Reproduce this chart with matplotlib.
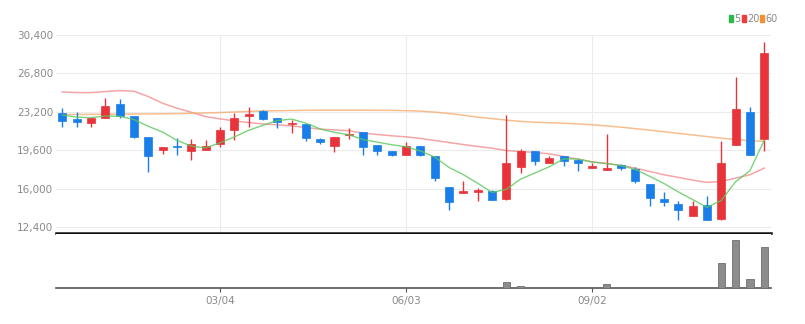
import matplotlib
matplotlib.use("Agg")
import matplotlib.pyplot as plt
import numpy as np
import pandas as pd

# ---- data (weekly candles) ----
dates = pd.date_range("2023-12-18", periods=50, freq="W-MON")
opens = [23130, 22507, 22132, 22600, 23910, 22787, 20853, 19574, 20010, 19542,
         19574, 20166, 21508, 22850, 23287, 22662, 22070, 22038, 20666, 19948,
         21010, 21352, 20042, 19542, 19137, 20010, 19043, 16135, 15580, 15642,
         15767, 15050, 18014, 19542, 18446, 19012, 18670, 17920, 17701, 18170,
         17858, 16454, 15050, 14582, 13396, 14426, 13146, 20042, 23224, 20666]
highs = [23536, 23224, 22694, 24534, 24410, 22787, 20853, 19917, 20790, 20634,
         20572, 21789, 23100, 23692, 23400, 22662, 22444, 22038, 20790, 20884,
         21664, 21352, 20042, 19542, 20322, 20010, 19043, 16135, 16672, 16048,
         15830, 22912, 19698, 19542, 19074, 19074, 18762, 18384, 21134, 18290,
         17982, 16454, 15680, 14800, 14862, 15330, 20416, 26500, 23630, 29776]
lows = [21758, 21820, 21758, 22600, 22662, 20790, 17514, 19230, 19137, 18700,
        19574, 19917, 20603, 21820, 22400, 21727, 21196, 20416, 20198, 19386,
        20634, 19106, 19106, 19012, 19137, 19074, 16672, 13958, 15580, 14800,
        14894, 14956, 17452, 18170, 18384, 18076, 17608, 17920, 17701, 17701,
        16510, 14332, 14332, 13084, 13396, 13084, 13022, 20042, 19106, 19480]
closes = [22382, 22257, 22600, 23786, 22850, 20884, 19074, 19917, 19886, 20166,
          20010, 21477, 22631, 23037, 22507, 22226, 22194, 20728, 20322, 20884,
          21134, 19886, 19542, 19106, 19948, 19168, 16984, 14700, 15736, 15892,
          14894, 18446, 19542, 18544, 18856, 18544, 18384, 18076, 17888, 17920,
          16758, 15112, 14706, 13958, 14332, 13084, 18384, 23474, 19106, 28684]
volumes = [14, 12, 13, 12, 14, 12, 13, 12, 13, 10,
           11, 12, 13, 12, 13, 12, 13, 9, 10, 9,
           10, 8, 7, 8, 9, 8, 7, 8, 7, 8,
           9, 60, 22, 10, 8, 8, 9, 10, 44, 10,
           7, 8, 9, 8, 9, 9, 250, 480, 94, 412]
ma5 = [22900, 22700, 22650, 22800, 22775, 22475, 21839, 21302, 20522, 19985,
       19811, 20291, 20834, 21464, 21932, 22376, 22519, 22138, 21595, 21271,
       21052, 20591, 20354, 20110, 19923, 19530, 18950, 17981, 17307, 16496,
       15641, 15934, 16902, 17464, 18056, 18786, 18774, 18481, 18350, 18162,
       17805, 17151, 16477, 15691, 14973, 14238, 14893, 16646, 17676, 20546]
ma20 = [25065, 25000, 25000, 25100, 25190, 25130, 24630, 24000, 23540, 23160,
        22750, 22540, 22350, 22190, 22070, 21976, 21880, 21730, 21570, 21510,
        21420, 21200, 21070, 20950, 20850, 20700, 20510, 20320, 20130, 19950,
        19790, 19570, 19480, 19386, 19260, 19010, 18760, 18510, 18360, 18170,
        17920, 17610, 17300, 17050, 16800, 16580, 16670, 16980, 17300, 17920]
ma60 = [22950, 22950, 22960, 22970, 22980, 22990, 23000, 23010, 23030, 23060,
        23090, 23130, 23180, 23230, 23280, 23300, 23320, 23340, 23350, 23350,
        23350, 23350, 23340, 23330, 23310, 23260, 23170, 23040, 22880, 22700,
        22560, 22420, 22300, 22220, 22180, 22130, 22060, 21980, 21880, 21760,
        21620, 21480, 21330, 21180, 21030, 20880, 20730, 20600, 20500, 20420]
yticks = [12400, 16000, 19600, 23200, 26800, 30400]
tick_idx = [11, 24, 37]
tick_labels = [dates[i].strftime("%m/%d") for i in tick_idx]

UP = "#e8333a"
DOWN = "#1a7ee8"
GRID = "#ececec"
TXT = "#8a8a8a"

plt.rcParams["font.family"] = ["Liberation Sans Narrow", "DejaVu Sans"]

fig = plt.figure(figsize=(8.05, 3.24), dpi=100)
W, H = 805, 324
axp = fig.add_axes([56 / W, 1 - 233 / H, (771 - 56) / W, (233 - 35) / H])
axv = fig.add_axes([56 / W, 1 - 288 / H, (771 - 56) / W, (288 - 234) / H], sharex=axp)

x = np.arange(len(opens))
for i in x:
    o, h, l, c = opens[i], highs[i], lows[i], closes[i]
    col = UP if c >= o else DOWN
    axp.vlines(i, l, h, color=col, lw=1.0, zorder=3)
    bot = min(o, c)
    ht = max(abs(c - o), 60)
    axp.bar(i, ht, bottom=bot, width=0.56, color=col, edgecolor=col, lw=0.5, zorder=4)

axp.plot(x, ma5, color="#5cc85c", lw=1.0, alpha=0.8, zorder=5)
axp.plot(x, ma20, color="#f08080", lw=1.1, alpha=0.7, zorder=2)
axp.plot(x, ma60, color="#f5a86a", lw=1.1, alpha=0.75, zorder=2)

axp.set_ylim(30400 - (233 - 35) * 93.75, 30400)
axp.set_xlim(-0.44, 49.47)
axp.set_yticks(yticks)
axp.set_yticklabels([f"{v:,}" for v in yticks], color=TXT, fontsize=7.5)
axp.tick_params(axis="y", length=0, pad=2)
axp.tick_params(axis="x", length=0, labelbottom=False)
axp.set_xticks(tick_idx)
axp.grid(True, color=GRID, lw=0.8, zorder=0)
axp.set_axisbelow(True)
for s in ["top", "right", "left"]:
    axp.spines[s].set_visible(False)
axp.spines["bottom"].set_color("#111111")
axp.spines["bottom"].set_linewidth(1.8)

axv.bar(x, volumes, width=0.5, color="#8c8c8c", edgecolor="#6e6e6e", lw=0.6, zorder=3)
axv.set_ylim(0, 540)
axv.set_yticks([])
axv.set_xticks(tick_idx)
axv.set_xticklabels(tick_labels, color=TXT, fontsize=7.5)
axv.tick_params(axis="x", length=3, color="#555555", pad=3)
for s in ["top", "right", "left"]:
    axv.spines[s].set_visible(False)
axv.spines["bottom"].set_color("#555555")
axv.spines["bottom"].set_linewidth(1.2)

# legend (top right)
leg_items = [("5", "#2db84a"), ("20", "#ee3b3b"), ("60", "#f39033")]
xpos = 729
for lab, col in leg_items:
    fig.patches.append(plt.Rectangle((xpos / W, 1 - 22 / H), 4 / W, 7 / H,
                                     transform=fig.transFigure, color=col))
    fig.text((xpos + 5) / W, 1 - 18.5 / H, lab, color=TXT, fontsize=7, va="center", ha="left")
    xpos += 6 + 5 * len(lab) + 2

fig.savefig("out.png", dpi=100)
